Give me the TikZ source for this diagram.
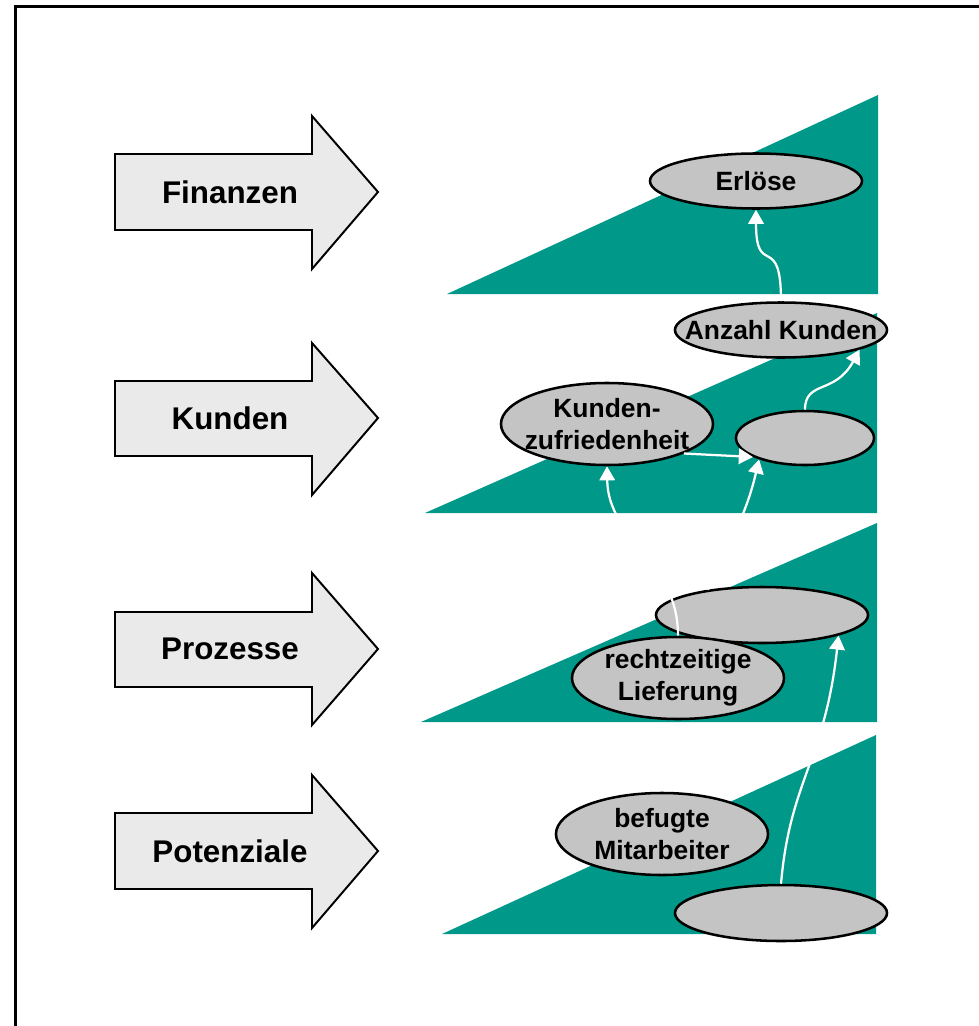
\documentclass[tikz,border=0pt]{standalone}
\usepackage{fontspec}
\setmainfont{Liberation Sans}
\usepackage{xcolor}
\usetikzlibrary{positioning, shapes.geometric, arrows.meta}

\definecolor{gruen}{RGB}{0,153,137}
\definecolor{ellgrau}{RGB}{196,196,196}
\definecolor{pfeilgrau}{RGB}{234,234,234}

\begin{document}
\begin{tikzpicture}[
    x=0.025cm, y=-0.025cm,
    ebene/.style={fill=gruen, draw=none},
    pfeil/.style={draw=black, fill=pfeilgrau, line width=1.4pt, line join=miter},
    titel/.style={font=\bfseries\fontsize{22.3}{26}\selectfont, inner sep=0pt},
    ziel/.style={ellipse, draw=black, fill=ellgrau, line width=1.8pt,
      minimum width=5.3cm, minimum height=1.375cm, inner xsep=-1.5cm,
      inner ysep=0pt, align=center,
      font=\bfseries\fontsize{18.8}{22.5}\selectfont},
    ziel2/.style={ziel, minimum height=2.05cm},
    link/.style={draw=white, line width=1.6pt, -{Triangle[width=11pt,length=10pt]}}
    ]

    \useasboundingbox (0,0) rectangle (979,1026);

    % Rahmen
    \draw[line width=2.2pt] (15.5,1030) -- (15.5,6.5) -- (985,6.5);

    % Ebenen
    \fill[ebene] (447,294) -- (878,95) -- (878,294) -- cycle;
    \fill[ebene] (425,513) -- (877,313) -- (877,513) -- cycle;
    \fill[ebene] (421,722) -- (877,523) -- (877,722) -- cycle;
    \fill[ebene] (442,934) -- (876,735) -- (876,934) -- cycle;

    % Perspektiven
    \draw[pfeil] (115,154) -- (312,154) -- (312,116) -- (378,192) -- (312,269)
      -- (312,230) -- (115,230) -- cycle;
    \node[titel] (Finanzen) at (230,192) {Finanzen};

    \draw[pfeil] (115,381) -- (312,381) -- (312,343) -- (378,418) -- (312,495)
      -- (312,456) -- (115,456) -- cycle;
    \node[titel] (Kunden) at (230,418) {Kunden};

    \draw[pfeil] (115,612) -- (312,612) -- (312,573) -- (378,649) -- (312,725)
      -- (312,687) -- (115,687) -- cycle;
    \node[titel] (Prozesse) at (230,649) {Prozesse};

    \draw[pfeil] (115,813) -- (312,813) -- (312,775) -- (378,851) -- (312,928)
      -- (312,889) -- (115,889) -- cycle;
    \node[titel] (Potenziale) at (230,851) {Potenziale};

    % Ziele
    \node[ziel] (Erloese) at (756,181) {Erlöse};
    \node[ziel] (AnzahlKunden) at (781,330) {Anzahl Kunden};
    \node[ziel2] (Zufriedenheit) at (607,424) {Kunden-\\zufriedenheit};
    \node[ziel, minimum width=3.45cm, minimum height=1.35cm] (KundenLeer)
    at (805,438) {};
    \node[ziel, minimum height=1.4cm] (ProzessLeer) at (762,615) {};
    \node[ziel2] (Lieferung) at (678,678) {rechtzeitige\\Lieferung};
    \node[ziel2] (Mitarbeiter) at (662,834) {befugte\\Mitarbeiter};
    \node[ziel, minimum height=1.4cm] (PotenzialLeer) at (781,913) {};

    % Ursache-Wirkung
    \draw[link] (AnzahlKunden.north) .. controls (781,230) and (756,280)
      .. (Erloese.south);
    \draw[link] (KundenLeer.north) .. controls (805,380) and (835,395)
      .. (AnzahlKunden.-14);
    \draw[link] (Zufriedenheit.-21) -- (KundenLeer.200);
    \draw[link] (Lieferung.north) .. controls (678,560) and (608,540)
      .. (Zufriedenheit.south);
    \draw[link] (ProzessLeer.155) .. controls (725,550) and (745,520)
      .. (KundenLeer.205);
    \draw[link] (PotenzialLeer.north) .. controls (790,780) and (825,760)
      .. (ProzessLeer.-15);

  \end{tikzpicture}
\end{document}
